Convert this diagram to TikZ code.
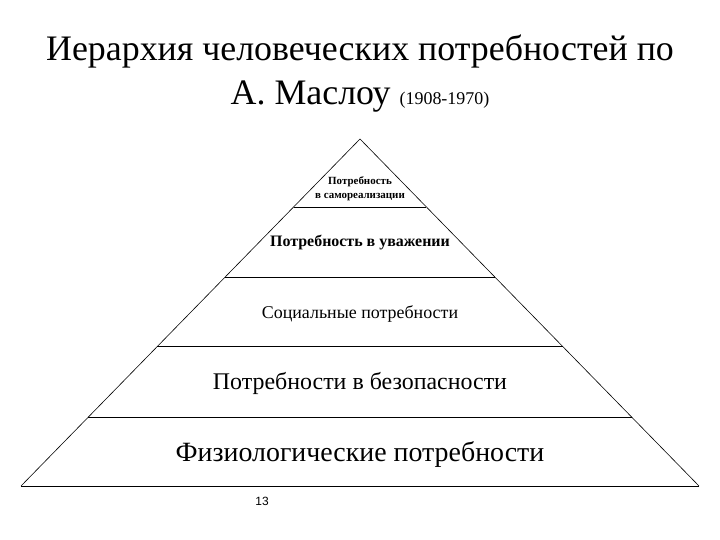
\documentclass[tikz,border=0pt]{standalone}
\usepackage{fontspec}
\setmainfont{Liberation Serif}
\newfontfamily\arialfont{Liberation Sans}
\usetikzlibrary{calc}
\def\tier(#1)(#2){\draw[line width=0.8pt] ($(apex)!#1!(bl)$) -- ($(apex)!#1!(br)$);}

\begin{document}
\begin{tikzpicture}[x=1bp, y=-1bp, inner sep=0pt]
		%%%%% START %%%%%
		\useasboundingbox (0, 0) rectangle (720, 540);
		
		\node (title1) at (360, 51) {\fontsize{36}{40}\selectfont Иерархия человеческих потребностей по};
		\node (title2) at (360, 97) {\fontsize{36}{40}\selectfont А. Маслоу \fontsize{18}{20}\selectfont(1908-1970)};
		
		\coordinate (apex) at (360, 139);
		\coordinate (bl) at (21, 486);
		\coordinate (br) at (699, 486);
		
		\draw[line width=0.6pt] (bl) -- (apex) -- (br);
		\draw[line width=0.8pt] (bl) -- (br);
		
		\tier(0.196)(1)
		\tier(0.398)(2)
		\tier(0.599)(3)
		\tier(0.801)(4)
		
		\node[align=center, font=\fontsize{11}{14}\selectfont\bfseries] (selfreal) at (360, 189) {Потребность\\в самореализации};
		\node[font=\fontsize{16}{18}\selectfont\bfseries] (esteem) at (360, 243) {Потребность в уважении};
		\node[font=\fontsize{18}{20}\selectfont] (social) at (360, 314) {Социальные потребности};
		\node[font=\fontsize{24}{28}\selectfont] (safety) at (360, 383) {Потребности в безопасности};
		\node[font=\fontsize{28}{32}\selectfont] (physio) at (360, 454) {Физиологические потребности};
		
		\node[font=\arialfont\fontsize{12}{14}\selectfont] (pagenum) at (262, 501) {13};
		
		%%%%% END %%%%%
	\end{tikzpicture}
\end{document}
